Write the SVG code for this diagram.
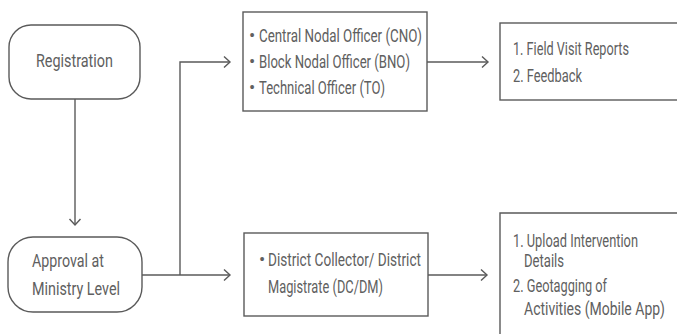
<svg xmlns="http://www.w3.org/2000/svg" width="677" height="334" viewBox="0 0 677 334">
<style>
.box{fill:#fff;stroke:#5a5a5a;stroke-width:1.4}
.t{font-family:Roboto,"Liberation Sans",sans-serif;font-size:18.5px;fill:#606060}
.c{fill:none;stroke:#5a5a5a;stroke-width:1.4}
</style>
<defs>
<marker id="ah" markerUnits="userSpaceOnUse" markerWidth="12" markerHeight="14" viewBox="0 0 12 14" refX="10" refY="7" orient="auto">
<path d="M4,1.5 L10,7 L4,12.5" fill="none" stroke="#5a5a5a" stroke-width="1.4"/>
</marker>
</defs>
<rect width="677" height="334" fill="#fff"/>
<g id="connectors">
<line class="c" x1="75" y1="99" x2="75" y2="225" marker-end="url(#ah)"/>
<line class="c" x1="142" y1="275" x2="230" y2="275" marker-end="url(#ah)"/>
<polyline class="c" points="180,275 180,62 230,62" marker-end="url(#ah)"/>
<line class="c" x1="427" y1="62" x2="488" y2="62" marker-end="url(#ah)"/>
<line class="c" x1="428" y1="275" x2="487" y2="275" marker-end="url(#ah)"/>
</g>
<g id="registration">
<rect class="box" x="9" y="25" width="131" height="74" rx="22"/>
<text class="t" transform="matrix(0.72 0 0 1 36 67)" textLength="106.9" lengthAdjust="spacingAndGlyphs">Registration</text>
</g>
<g id="approval">
<rect class="box" x="8" y="237" width="134" height="75" rx="25"/>
<text class="t" transform="matrix(0.72 0 0 1 32 267)" textLength="100" lengthAdjust="spacingAndGlyphs">Approval at</text>
<text class="t" transform="matrix(0.72 0 0 1 32 295)" textLength="122.2" lengthAdjust="spacingAndGlyphs">Ministry Level</text>
</g>
<g id="officers">
<rect class="box" x="243" y="12" width="184" height="99"/>
<text class="t" x="249" y="42">•</text>
<text class="t" transform="matrix(0.72 0 0 1 259 42)" textLength="226.4" lengthAdjust="spacingAndGlyphs">Central Nodal Officer (CNO)</text>
<text class="t" x="249" y="68">•</text>
<text class="t" transform="matrix(0.72 0 0 1 259 68)" textLength="209.7" lengthAdjust="spacingAndGlyphs">Block Nodal Officer (BNO)</text>
<text class="t" x="249" y="94">•</text>
<text class="t" transform="matrix(0.72 0 0 1 259 94)" textLength="175" lengthAdjust="spacingAndGlyphs">Technical Officer (TO)</text>
</g>
<g id="reports">
<rect class="box" x="500" y="23" width="178" height="77"/>
<text class="t" transform="matrix(0.72 0 0 1 513 55)" textLength="161.1" lengthAdjust="spacingAndGlyphs">1. Field Visit Reports</text>
<text class="t" transform="matrix(0.72 0 0 1 513 82)" textLength="95.8" lengthAdjust="spacingAndGlyphs">2. Feedback</text>
</g>
<g id="district">
<rect class="box" x="244" y="233" width="184" height="83"/>
<text class="t" x="259" y="266">•</text>
<text class="t" transform="matrix(0.72 0 0 1 268 266)" textLength="212.5" lengthAdjust="spacingAndGlyphs">District Collector/ District</text>
<text class="t" transform="matrix(0.72 0 0 1 268 293)" textLength="159.7" lengthAdjust="spacingAndGlyphs">Magistrate (DC/DM)</text>
</g>
<g id="upload">
<path class="box" d="M678,213 H500 V336"/>
<text class="t" transform="matrix(0.72 0 0 1 513 247)" textLength="173.6" lengthAdjust="spacingAndGlyphs">1. Upload Intervention</text>
<text class="t" transform="matrix(0.72 0 0 1 524 267)" textLength="55.6" lengthAdjust="spacingAndGlyphs">Details</text>
<text class="t" transform="matrix(0.72 0 0 1 513 292)" textLength="130.6" lengthAdjust="spacingAndGlyphs">2. Geotagging of</text>
<text class="t" transform="matrix(0.72 0 0 1 524 315)" textLength="195.8" lengthAdjust="spacingAndGlyphs">Activities (Mobile App)</text>
</g>
</svg>
